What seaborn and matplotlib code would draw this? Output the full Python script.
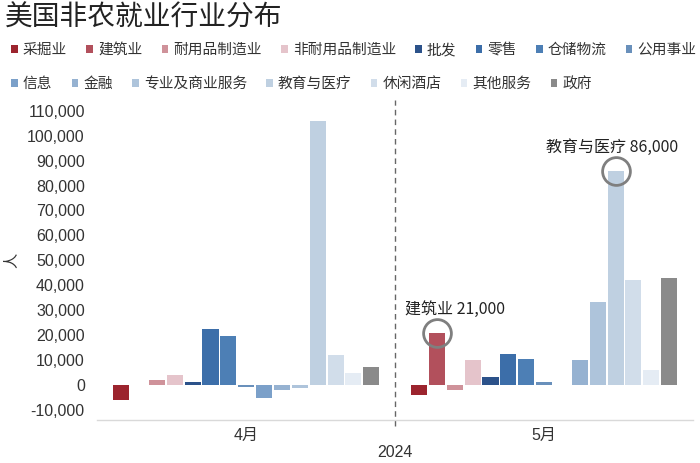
import matplotlib
matplotlib.use("Agg")
import matplotlib.pyplot as plt
import seaborn as sns
import pandas as pd
from matplotlib.ticker import StrMethodFormatter

# data
industries = ["采掘业", "建筑业", "耐用品制造业", "非耐用品制造业", "批发", "零售", "仓储物流", "公用事业",
              "信息", "金融", "专业及商业服务", "教育与医疗", "休闲酒店", "其他服务", "政府"]
months = ["4月", "5月"]
apr = [-6000, 0, 2000, 4000, 1300, 22600, 19500, -700, -5100, -2000, -1100, 106000, 11900, 4900, 7100]
may = [-4000, 21000, -2000, 10000, 3100, 12400, 10600, 1200, 0, 10000, 33200, 86000, 42000, 6000, 42900]
colors = ["#B0101E", "#C2404F", "#D98893", "#EBBEC8", "#1C4F9A", "#2A6DBB", "#3C7EC6", "#5B8FC9",
          "#6E9FD6", "#8CB1DB", "#A7C4E3", "#B9D0E7", "#CDDDEE", "#E3ECF6", "#8A8A8A"]

df = pd.DataFrame({
    "月份": [months[0]] * len(industries) + [months[1]] * len(industries),
    "行业": industries * 2,
    "人": apr + may,
})

sns.set_style("white")
plt.rcParams["font.family"] = ["Liberation Sans", "Noto Sans CJK SC"]
plt.rcParams["axes.unicode_minus"] = False

fig = plt.figure(figsize=(7, 4.63), dpi=100)
ax = fig.add_axes([0.139, 0.093, 0.851, 0.691])

sns.barplot(data=df, x="月份", y="人", hue="行业", hue_order=industries, order=months,
            palette=colors, width=0.9, gap=0.1, linewidth=0, errorbar=None, ax=ax)

leg = ax.get_legend()
handles = leg.legend_handles
labels = [t.get_text() for t in leg.get_texts()]
leg.remove()

legend_kw = dict(frameon=False, handlelength=0.45, handleheight=0.45,
                 handletextpad=0.35, columnspacing=1.3, borderpad=0, borderaxespad=0,
                 loc="center left", prop={"family": "Noto Sans CJK SC", "size": 10.6})
l1 = fig.legend(handles[:8], labels[:8], ncol=8, bbox_to_anchor=(0.016, 0.892), **legend_kw)
l2 = fig.legend(handles[8:], labels[8:], ncol=7, bbox_to_anchor=(0.016, 0.818), **legend_kw)
for lg in (l1, l2):
    for t in lg.get_texts():
        t.set_color("#333333")

ax.set_ylim(-14000, 114300)
ax.set_xlim(-0.5, 1.5)
ax.set_yticks(range(-10000, 110001, 10000))
ax.yaxis.set_major_formatter(StrMethodFormatter("{x:,.0f}"))
ax.tick_params(axis="y", labelsize=11.5, colors="#333333", length=0, pad=9)
ax.tick_params(axis="x", labelsize=11.5, colors="#333333", length=0, pad=6)
ax.set_ylabel("人", fontsize=11, color="#333333", labelpad=6)
ax.set_xlabel("2024", fontsize=11.5, color="#333333", labelpad=1)

for s in ["top", "right", "left"]:
    ax.spines[s].set_visible(False)
ax.spines["bottom"].set_color("#D9D9D9")
ax.spines["bottom"].set_linewidth(1)

ax.axvline(0.5, ls=(0, (4, 3)), color="#666666", lw=1, ymin=-0.02, clip_on=False)

# highlight annotations on the May bars
notes = [("建筑业", (-23, 17)), ("教育与医疗", (-50, 17))]
for name, offset in notes:
    k = industries.index(name)
    bar = ax.containers[k][1]
    bx = bar.get_x() + bar.get_width() / 2
    by = bar.get_height()
    ax.plot(bx, by, marker="o", ms=20, mfc="none", mec="#7F7F7F", mew=2)
    ax.annotate(f"{name} {by:,.0f}", xy=(bx, by), xytext=offset, textcoords="offset points",
                ha="left", va="center", fontsize=11.5, family="Noto Sans CJK SC", color="#222222")

fig.text(0.007, 0.962, "美国非农就业行业分布", fontsize=20, family="Noto Sans CJK SC",
         color="#222222", va="center", ha="left")

fig.savefig("out.png", dpi=100)
